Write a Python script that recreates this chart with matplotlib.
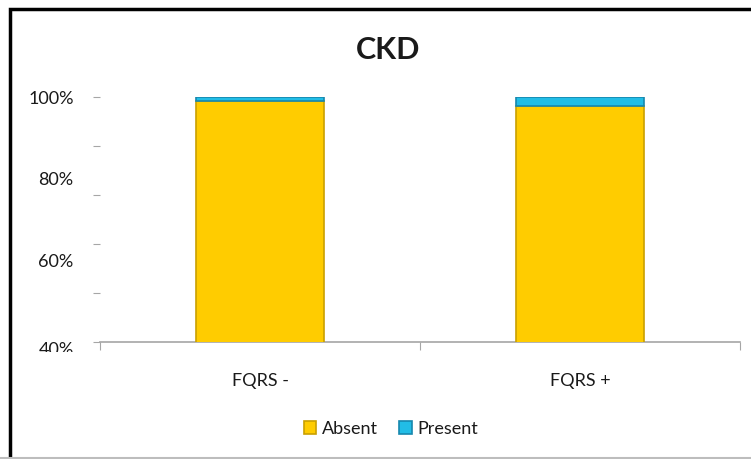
import numpy as np
import matplotlib
matplotlib.use("Agg")
import matplotlib.pyplot as plt
from matplotlib.lines import Line2D
from matplotlib.patches import Rectangle
from matplotlib.transforms import Bbox

plt.rcParams['font.family'] = ['Lato', 'DejaVu Sans']

# data
groups = ["FQRS -", "FQRS +"]
absent = [99.0, 97.9]
present = [1.0, 2.1]
label_ticks = [40, 60, 80, 100]
mark_ticks = [40, 52, 64, 76, 88, 100]

gold, gold_edge = "#FFCC00", "#C9A000"
blue, blue_edge = "#22BDE6", "#1788AE"
txt = "#1a1a1a"

fig = plt.figure(figsize=(7.51, 4.59), dpi=100)
ax = fig.add_axes([100 / 751, 1 - 342 / 459, 640 / 751, 245 / 459])

x = np.arange(len(groups))
ax.bar(x, absent, width=0.4, color=gold, edgecolor=gold_edge, linewidth=1.2,
       label="Absent", zorder=3)
ax.bar(x, present, bottom=absent, width=0.4, color=blue, edgecolor=blue_edge,
       linewidth=1.2, label="Present", zorder=3)

ax.set_xlim(-0.5, 1.5)
ax.set_ylim(40, 100)

for s in ["top", "right", "left"]:
    ax.spines[s].set_visible(False)
ax.spines["bottom"].set_color("#a6a6a6")
ax.spines["bottom"].set_linewidth(1.2)

# x ticks at category boundaries, labels in the middle
ax.set_xticks([-0.5, 0.5, 1.5])
ax.set_xticklabels([])
ax.set_xticks(x, minor=True)
ax.set_xticklabels(groups, minor=True, fontsize=13, color=txt)
ax.tick_params(axis="x", which="major", length=6, color="#a6a6a6", direction="out")
ax.tick_params(axis="x", which="minor", length=0, pad=22)

# y: short tick marks every 12 %, labels every 20 %
ax.yaxis.remove_overlapping_locs = False
ax.set_yticks(mark_ticks)
ax.set_yticklabels([])
ax.set_yticks(label_ticks, minor=True)
ax.set_yticklabels([f"{v}%" for v in label_ticks], minor=True, fontsize=13, color=txt)
ax.tick_params(axis="y", which="major", length=5, color="#a6a6a6", pad=0)
ax.tick_params(axis="y", which="minor", length=0, pad=19)

# bottom label sits under the axis and gets cut off
low = ax.yaxis.get_minor_ticks()[0].label1
low.set_va("top")
low.set_clip_on(True)
low.set_clip_box(Bbox.from_extents(0, 459 - 352, 751, 459))

fig.text(388 / 751, 1 - 50 / 459, "CKD", fontsize=22, fontweight="bold",
         color=txt, ha="center", va="center")

ax.legend(loc="center", bbox_to_anchor=(391 / 751, 1 - 429 / 459),
          bbox_transform=fig.transFigure, ncol=2, frameon=False, fontsize=13,
          handlelength=0.7, handleheight=0.7, handletextpad=0.3, columnspacing=1.2,
          labelcolor=txt)

# chart frame
fig.patches.append(Rectangle((9.5 / 751, -0.1), 1.2, 1 - 9.5 / 459 + 0.1,
                             transform=fig.transFigure, fill=False,
                             edgecolor="black", linewidth=2.5))
fig.lines.append(Line2D([0, 1], [1.5 / 459, 1.5 / 459], transform=fig.transFigure,
                        color="#bdbdbd", linewidth=1.5))

fig.savefig("out.png", dpi=100, facecolor="white")
